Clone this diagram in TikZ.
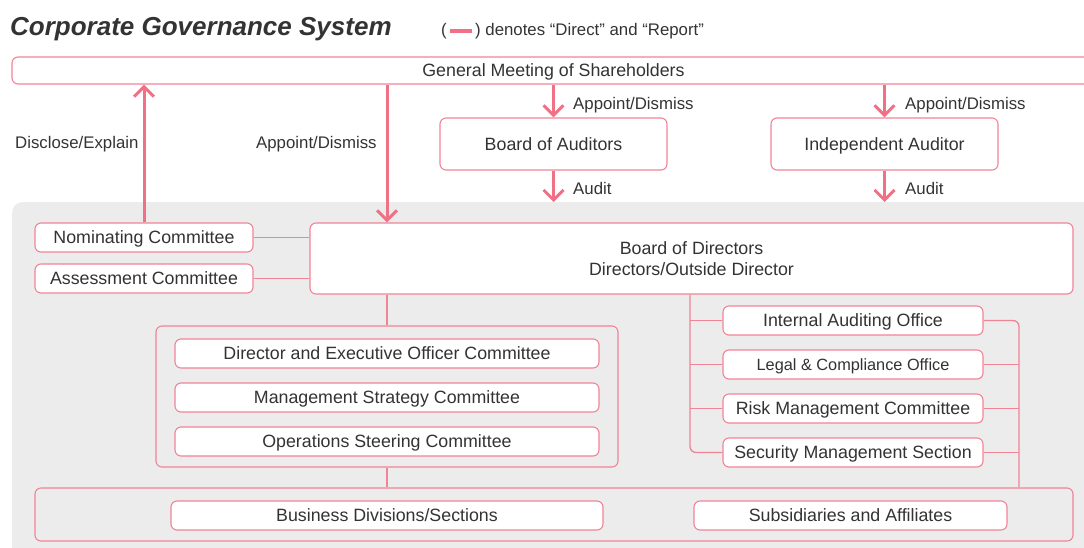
\documentclass[tikz,border=0pt]{standalone}
\usepackage{fontspec}
\setmainfont{Liberation Sans}
\usetikzlibrary{arrows.meta}
\definecolor{rose}{RGB}{240,112,134}
\definecolor{roseline}{RGB}{240,132,150}
\definecolor{ink}{RGB}{51,51,51}
\definecolor{panelgray}{RGB}{236,236,236}

\tikzset{
  box/.style={draw=roseline, line width=1.1pt, fill=white, rounded corners=6pt,
    text=ink, font=\fontsize{17.8}{21}\selectfont, inner sep=0pt,
    text height=12.7pt, text depth=0pt},
  grp/.style={draw=roseline, line width=1.1pt, rounded corners=6pt, inner sep=0pt},
  link/.style={draw=roseline, line width=1.3pt},
  arr/.style={draw=rose, line width=3pt,
    -{Straight Barb[length=10pt,width=20pt,line width=3pt]}},
  lbl/.style={text=ink, font=\fontsize{16.8}{19}\selectfont, inner sep=0pt,
    text height=12pt, text depth=0pt, anchor=west},
  legend/.style={text=ink, font=\fontsize{16.8}{19}\selectfont, inner sep=0pt,
    text height=12pt, text depth=3pt},
}

\begin{document}
\begin{tikzpicture}[x=1pt,y=-1pt]
\useasboundingbox (0,0) rectangle (1084,547);

% grey panel behind the company-side organisation
\node[fill=panelgray, rounded corners=10pt, inner sep=0pt, anchor=north west,
  minimum width=1100pt, minimum height=360pt] (panel) at (12,202) {};

% heading and legend
\node[anchor=base west, inner sep=0pt, text=ink,
  font=\fontsize{26}{30}\selectfont\bfseries\itshape] (title) at (10,35)
  {Corporate Governance System};
\node[legend, anchor=west] (lpo) at (441,30.5) {(};
\node[legend, anchor=west] (ltx) at (475,30.5) {) denotes “Direct” and “Report”};
\draw[rose, line width=4pt, shorten <=3pt, shorten >=3pt] (lpo.east) -- (ltx.west);

% shareholders and auditors
\node[box, minimum width=1083pt, minimum height=27pt] (gm) at (553.5,70.5)
  {General Meeting of Shareholders};
\node[box, minimum width=227pt, minimum height=52pt] (boa) at (553.5,144)
  {Board of Auditors};
\node[box, minimum width=227pt, minimum height=52pt] (ia) at (884.5,144)
  {Independent Auditor};

% board and its committees
\node[box, minimum width=218pt, minimum height=29pt] (nom) at (144,237.5)
  {Nominating Committee};
\node[box, minimum width=218pt, minimum height=29pt] (ass) at (144,278.5)
  {Assessment Committee};
\node[box, minimum width=763pt, minimum height=71pt, align=center,
  text height=, text depth=] (bod) at (691.5,258.5)
  {Board of Directors\\Directors/Outside Director};

% executive committees
\node[grp, minimum width=462pt, minimum height=141pt] (execg) at (387,396.5) {};
\node[box, minimum width=424pt, minimum height=29pt] (deo) at (387,353.5)
  {Director and Executive Officer Committee};
\node[box, minimum width=424pt, minimum height=29pt] (msc) at (387,397.5)
  {Management Strategy Committee};
\node[box, minimum width=424pt, minimum height=29pt] (osc) at (387,441.5)
  {Operations Steering Committee};

% offices reporting to the board
\node[box, minimum width=260pt, minimum height=29pt] (iao) at (853,320.5)
  {Internal Auditing Office};
\node[box, minimum width=260pt, minimum height=29pt,
  font=\fontsize{16.3}{19}\selectfont, text height=11.7pt] (lco) at (853,364.5)
  {Legal \& Compliance Office};
\node[box, minimum width=260pt, minimum height=29pt] (rmc) at (853,408.5)
  {Risk Management Committee};
\node[box, minimum width=260pt, minimum height=29pt] (sms) at (853,452.5)
  {Security Management Section};

% operating units
\node[grp, minimum width=1038pt, minimum height=53pt] (bgrp) at (554,514.5) {};
\node[box, minimum width=432pt, minimum height=29pt] (bds) at (387,515.5)
  {Business Divisions/Sections};
\node[box, minimum width=313pt, minimum height=29pt] (sub) at (850.5,515.5)
  {Subsidiaries and Affiliates};

% thin connectors
\coordinate (lspine) at (690,0);
\coordinate (rspine) at (1019,0);
\draw[link] (nom.east) -- (nom.east -| bod.west);
\draw[link] (ass.east) -- (ass.east -| bod.west);
\draw[link] (bod.south -| execg.north) -- (execg.north);
\draw[link] (execg.south) -- (execg.south |- bgrp.north);
\draw[link, rounded corners=6pt] (bod.south -| lspine) |- (sms.west);
\draw[link] (iao.west -| lspine) -- (iao.west);
\draw[link] (lco.west -| lspine) -- (lco.west);
\draw[link] (rmc.west -| lspine) -- (rmc.west);
\draw[link, rounded corners=6pt] (iao.east) -| (bgrp.north -| rspine);
\draw[link] (lco.east) -- (lco.east -| rspine);
\draw[link] (rmc.east) -- (rmc.east -| rspine);
\draw[link] (sms.east) -- (sms.east -| rspine);

% direction arrows
\draw[arr] (nom.north) -- (nom.north |- gm.south);
\draw[arr] (gm.south -| execg.north) -- (execg.north |- bod.north);
\draw[arr] (gm.south -| boa.north) -- (boa.north);
\draw[arr] (gm.south -| ia.north) -- (ia.north);
\draw[arr] (boa.south) -- (boa.south |- panel.north);
\draw[arr] (ia.south) -- (ia.south |- panel.north);

% arrow labels
\node[lbl] (lde) at (15,142.5) {Disclose/Explain};
\node[lbl] (lad) at (256,142.5) {Appoint/Dismiss};
\node[lbl] (lab) at (573,103.5) {Appoint/Dismiss};
\node[lbl] (lai) at (905,103.5) {Appoint/Dismiss};
\node[lbl] (lub) at (573,188.5) {Audit};
\node[lbl] (lui) at (905,188.5) {Audit};
\end{tikzpicture}
\end{document}
